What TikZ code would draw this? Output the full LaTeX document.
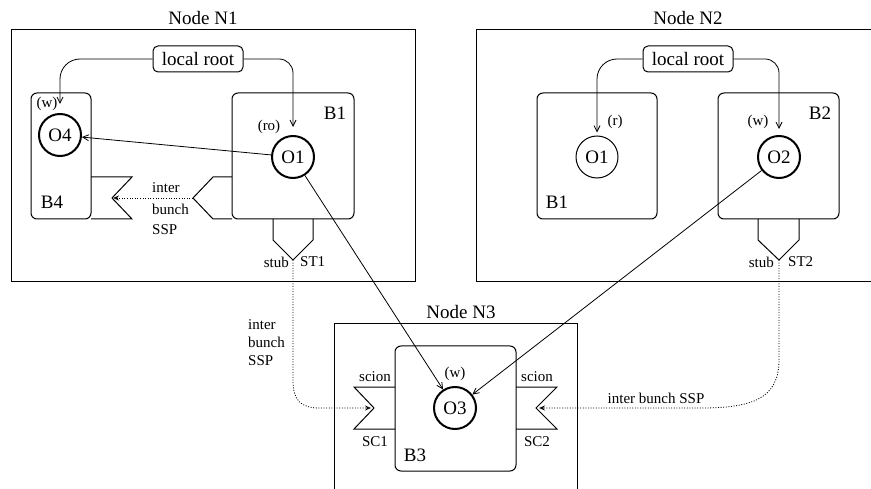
\documentclass[tikz,border=0pt]{standalone}
\usepackage{fontspec}
\setmainfont{Liberation Serif}
\usetikzlibrary{arrows.meta}
\begin{document}
\begin{tikzpicture}[x=1pt,y=-1pt,
  every node/.style={font=\fontsize{19}{22}\selectfont, inner sep=0pt},
  small/.style={font=\fontsize{15}{17}\selectfont},
  nodebox/.style={draw, line width=1pt, rectangle},
  bunchbox/.style={draw, line width=1pt, rounded corners=6pt},
  rootbox/.style={draw, line width=1pt, rounded corners=5pt},
  obj/.style={draw, circle, line width=2pt, minimum size=42pt},
  objthin/.style={draw, circle, line width=1pt, minimum size=42pt},
  ref/.style={-{Straight Barb[length=6pt,width=6pt]}, line width=0.8pt},
  ssp/.style={-{Stealth[open,length=6pt,width=5pt]}, dash pattern=on 1pt off 1.6pt, line width=0.8pt},
  stubshape/.style={draw, line width=1pt, line join=miter}]
\clip (0,0) rectangle (871,489);

% ---------- Node N1 ----------
\node (t1) at (203,18) {Node N1};
\node[nodebox, minimum width=404pt, minimum height=252pt] (n1) at (213,156) {};
\node[rootbox, minimum width=90pt, minimum height=26pt] (lr1) at (198,59) {local root};
\node[bunchbox, minimum width=60pt, minimum height=126pt] (b4) at (61,156) {};
\node[bunchbox, minimum width=122pt, minimum height=126pt] (b1a) at (293,156) {};
\node[obj] (o4) at (60,135) {O4};
\node[obj] (o1a) at (293,157) {O1};
\node[small] (w4) at (47,104) {(w)};
\node[small] (ro1) at (269,127) {(ro)};
\node (lb1a) at (335,113) {B1};
\node (lb4) at (52,202) {B4};

\draw[stubshape] (232,177) -- (213,177) -- (193,198) -- (213,219) -- (232,219);
\coordinate (sspout) at (193,198);
\draw[stubshape] (91,177) -- (132,177) -- (112,198) -- (132,219) -- (91,219);
\coordinate (sc4) at (112,198);
\draw[ssp, shorten >=1pt] (sspout) -- (sc4);
\node[small, anchor=west] (i1) at (152,188) {inter};
\node[small, anchor=west] (i2) at (152,209) {bunch};
\node[small, anchor=west] (i3) at (152,230) {SSP};

\draw[stubshape] (273,219) -- (273,240) -- (293,260) -- (313,240) -- (313,219);
\coordinate (st1) at (293,260);
\node[small, anchor=east] (stub1) at (289,262) {stub};
\node[small, anchor=west] (lst1) at (300,262) {ST1};

\draw[ref, rounded corners=20pt] (lr1.west) -| ([yshift=9pt]o4.north);
\draw[ref, rounded corners=14pt] (lr1.east) -| ([yshift=8pt]o1a.north);
\draw[ref] (o1a) -- (o4);

% ---------- Node N2 ----------
\node (t2) at (688,18) {Node N2};
\node[nodebox, minimum width=424pt, minimum height=252pt] (n2) at (688,156) {};
\node[rootbox, minimum width=90pt, minimum height=26pt] (lr2) at (688,59) {local root};
\node[bunchbox, minimum width=120pt, minimum height=126pt] (b1b) at (597,156) {};
\node[bunchbox, minimum width=121pt, minimum height=126pt] (b2) at (778.5,156) {};
\node[objthin] (o1b) at (597,157) {O1};
\node[obj] (o2) at (779,157) {O2};
\node[small] (r1) at (615,122) {(r)};
\node[small] (w2) at (758,122) {(w)};
\node (lb2) at (820,113) {B2};
\node (lb1b) at (557,202) {B1};

\draw[stubshape] (758,219) -- (758,240) -- (779,260) -- (799,240) -- (799,219);
\coordinate (st2) at (779,260);
\node[small, anchor=east] (stub2) at (774,262) {stub};
\node[small, anchor=west] (lst2) at (788,262) {ST2};

\draw[ref, rounded corners=20pt] (lr2.west) -| ([yshift=3pt]o1b.north);
\draw[ref, rounded corners=14pt] (lr2.east) -| ([yshift=6pt]o2.north);

% ---------- Node N3 ----------
\node (t3) at (461,312) {Node N3};
\node[nodebox, minimum width=243pt, minimum height=196pt] (n3) at (455.5,422) {};
\node[bunchbox, minimum width=121pt, minimum height=125pt] (b3) at (455.5,408.5) {};
\node[obj] (o3) at (455,408) {O3};
\node[small] (w3) at (455,374) {(w)};
\node (lb3) at (415,455) {B3};

\draw[stubshape] (395,387) -- (354,387) -- (374,408) -- (354,429) -- (395,429);
\coordinate (sc1) at (374,408);
\draw[stubshape] (516,387) -- (557,387) -- (536,408) -- (557,429) -- (516,429);
\coordinate (sc2) at (536,408);
\node[small] (scion1) at (375,377) {scion};
\node[small] (scion2) at (537,377) {scion};
\node[small] (lsc1) at (375,442) {SC1};
\node[small] (lsc2) at (537,442) {SC2};

% ---------- inter-node references ----------
\draw[ref] (o1a) -- (o3);
\draw[ref] (o2) -- (o3);

\draw[ssp, shorten >=3pt] (st1) -- (293,380) .. controls (293,400) and (300,408) .. (320,408) -- (sc1);
\node[small, anchor=west] (j1) at (248,325) {inter};
\node[small, anchor=west] (j2) at (248,342) {bunch};
\node[small, anchor=west] (j3) at (248,361) {SSP};

\draw[ssp, shorten >=3pt] (st2) -- (779,360) .. controls (779,400) and (750,408) .. (700,408) -- (sc2);
\node[small] (j4) at (656,398) {inter bunch SSP};
\end{tikzpicture}
\end{document}
